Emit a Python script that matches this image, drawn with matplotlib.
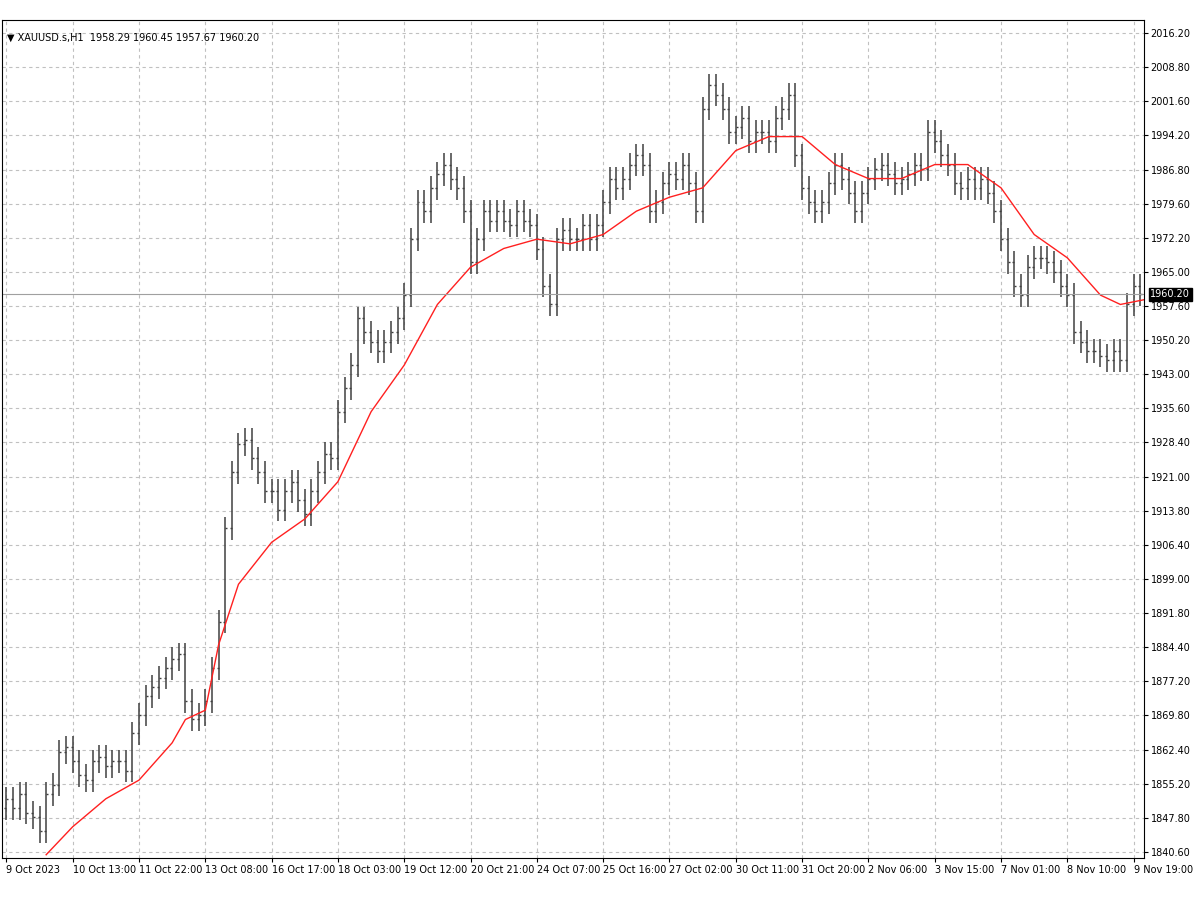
import matplotlib
matplotlib.use("Agg")
import matplotlib.pyplot as plt
import numpy as np

closes = [
1852,1850,1853,1849,1848,1845,1853,1855,1862,1863,
1860,1857,1856,1860,1861,1859,1860,1860,1858,1866,
1870,1874,1876,1878,1880,1882,1883,1873,1869,1870,
1873,1880,1890,1910,1922,1928,1929,1925,1922,1918,
1918,1914,1918,1920,1916,1913,1918,1922,1926,1925,
1935,1940,1945,1955,1952,1950,1948,1950,1952,1955,
1960,1972,1980,1978,1983,1986,1988,1985,1983,1978,
1967,1972,1978,1976,1978,1976,1975,1978,1976,1975,
1970,1962,1958,1972,1974,1972,1972,1975,1972,1975,
1980,1985,1983,1985,1988,1990,1988,1978,1980,1984,
1986,1985,1988,1984,1978,2000,2005,2003,2000,1995,
1996,1998,1993,1995,1995,1993,1998,2000,2003,1990,
1983,1980,1978,1980,1984,1988,1985,1982,1978,1982,
1985,1987,1988,1986,1984,1985,1986,1988,1987,1995,
1993,1990,1988,1984,1983,1985,1983,1985,1982,1978,
1972,1967,1962,1960,1966,1968,1968,1967,1965,1962,
1960,1952,1950,1948,1948,1947,1946,1948,1946,1958,
1962,1960.2]
first_open = 1850
ma_idx = [6,10,15,20,25,27,30,32,35,40,45,50,55,60,65,70,75,80,85,90,95,100,105,110,115,120,125,130,135,140,145,150,155,160,165,168,171.5]
ma_val = [1840,1846,1852,1856,1864,1869,1871,1885,1898,1907,1912,1920,1935,1945,1958,1966,1970,1972,1971,1973,1978,1981,1983,1991,1994,1994,1988,1985,1985,1988,1988,1983,1973,1968,1960,1958,1959]
xlabels = ["9 Oct 2023","10 Oct 13:00","11 Oct 22:00","13 Oct 08:00","16 Oct 17:00","18 Oct 03:00",
"19 Oct 12:00","20 Oct 21:00","24 Oct 07:00","25 Oct 16:00","27 Oct 02:00","30 Oct 11:00",
"31 Oct 20:00","2 Nov 06:00","3 Nov 15:00","7 Nov 01:00","8 Nov 10:00","9 Nov 19:00"]
ylabels = ["1840.60","1847.80","1855.20","1862.40","1869.80","1877.20","1884.40","1891.80","1899.00",
"1906.40","1913.80","1921.00","1928.40","1935.60","1943.00","1950.20","1957.60","1965.00",
"1972.20","1979.60","1986.80","1994.20","2001.60","2008.80","2016.20"]
last_price = 1960.20

fig = plt.figure(figsize=(12, 9), dpi=100)
ax = fig.add_axes([0.002, 1-858/900, 0.951, 838/900])
n = len(closes)
x = np.arange(n)
opens = np.array([first_open] + closes[:-1], dtype=float)
c = np.array(closes, dtype=float)
hi = np.maximum(opens, c) + 2.5
lo = np.minimum(opens, c) - 2.5
ax.vlines(x, lo, hi, color="#404040", lw=1.1)
ax.hlines(opens, x-0.3, x, color="#404040", lw=1.0)
ax.hlines(c, x, x+0.3, color="#404040", lw=1.0)
ax.plot(ma_idx, ma_val, color="#ff2020", lw=1.0)
ax.axhline(last_price, color="#a0a0a0", lw=0.8)

ymin, ymax = 1839.3, 2019.0
ax.set_xlim(-0.6, 171.5)
ax.set_ylim(ymin, ymax)
yt = np.linspace(1840.6, 2016.2, len(ylabels))
ax.yaxis.tick_right()
ax.set_yticks(yt)
ax.set_yticklabels(ylabels, fontsize=7)
ax.set_xticks(np.arange(len(xlabels)) * 10)
ax.set_xticklabels(xlabels, fontsize=7, ha="left")
ax.tick_params(length=3, pad=2)
ax.grid(True, color="#c0c0c0", ls=(0, (3, 3)), lw=0.8)
for s in ax.spines.values():
    s.set_color("black")
    s.set_linewidth(0.8)
ax.text(1.006, (last_price-ymin)/(ymax-ymin), f"{last_price:.2f}", transform=ax.transAxes,
        fontsize=7, color="white", va="center", ha="left",
        bbox=dict(boxstyle="square,pad=0.15", fc="black", ec="black"))
ax.text(0.004, 0.985, "\u25bc XAUUSD.s,H1  1958.29 1960.45 1957.67 1960.20", transform=ax.transAxes,
        fontsize=7, va="top", ha="left")
fig.savefig("out.png", dpi=100)
